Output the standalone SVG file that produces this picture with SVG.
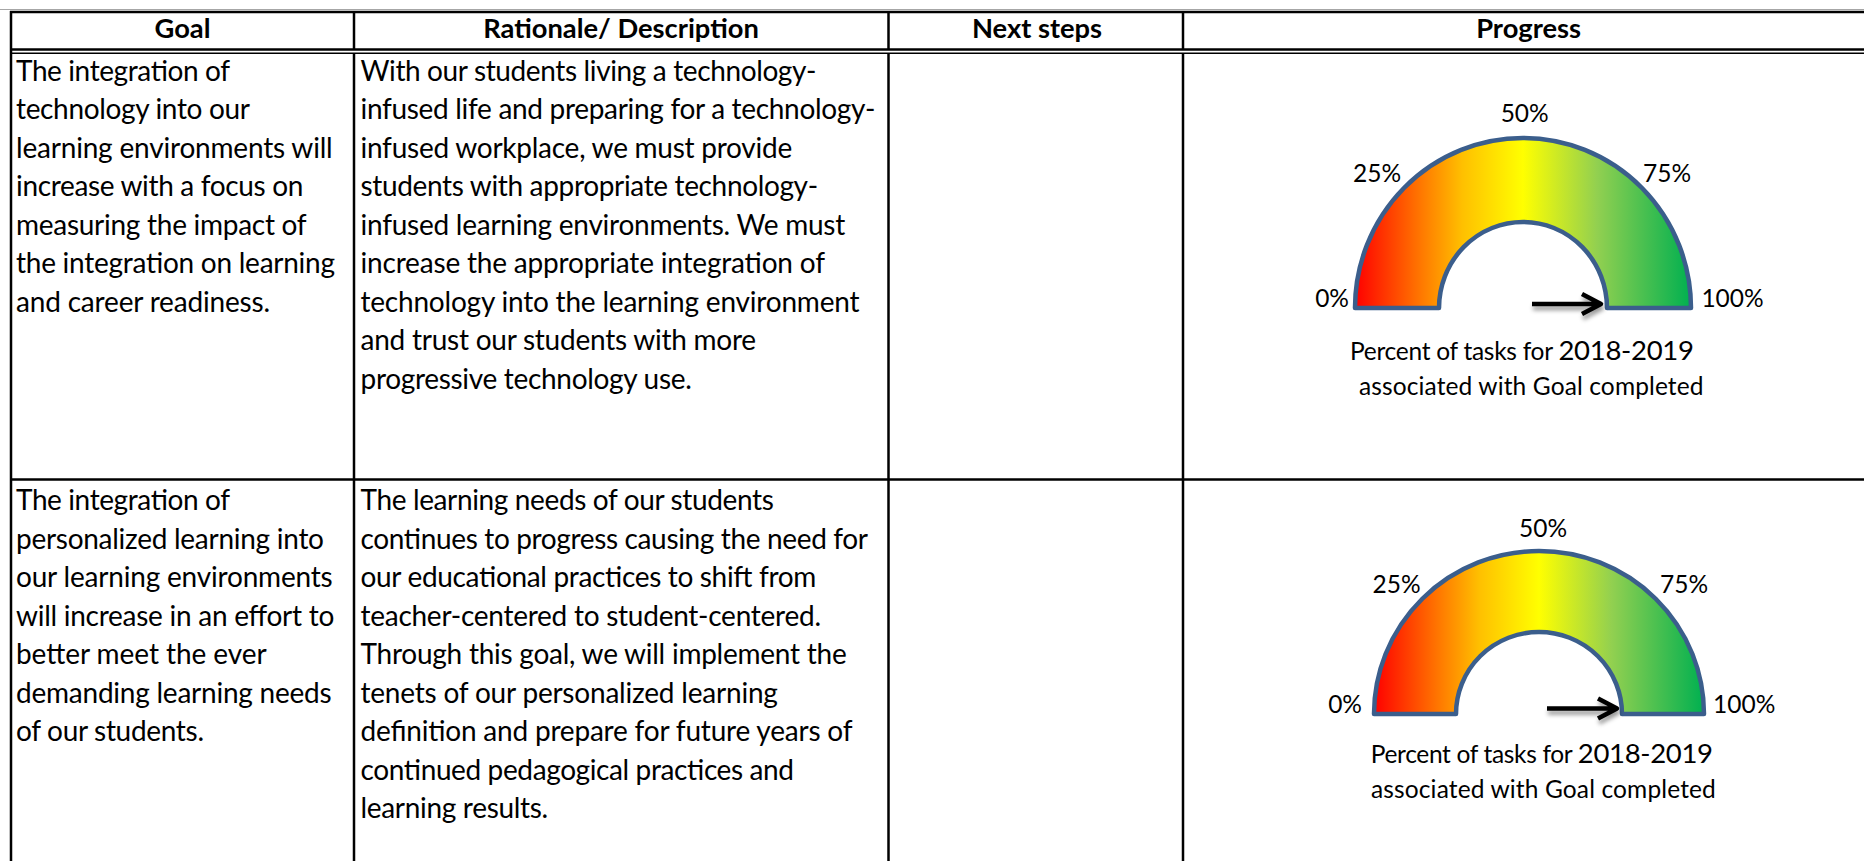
<svg xmlns="http://www.w3.org/2000/svg" width="1864" height="861" viewBox="0 0 1864 861">
<style>
.ln{stroke:#000;stroke-width:2.5;fill:none}
.thin{stroke:#000;stroke-width:1.5;fill:none}
.hd{font-family:Lato,"Liberation Sans",sans-serif;font-weight:bold;font-size:27.3px;fill:#000;text-anchor:middle}
.bd{font-family:Lato,"Liberation Sans",sans-serif;font-size:28px;fill:#000}
.lb{font-family:Lato,"Liberation Sans",sans-serif;font-size:24.5px;fill:#000}
.cp{font-family:Lato,"Liberation Sans",sans-serif;font-size:24.5px;fill:#000}
.yr{font-size:27.5px}
.gauge{fill:url(#grad);stroke:#3b5e8c;stroke-width:4.5;stroke-linejoin:round}
.arr{stroke:#000;stroke-width:4.5;fill:none;stroke-linejoin:round}
</style>
<defs>
<linearGradient id="grad" x1="0" y1="0" x2="1" y2="0">
<stop offset="0" stop-color="#FF0000"/>
<stop offset="0.2" stop-color="#FF7A00"/>
<stop offset="0.32" stop-color="#FFC000"/>
<stop offset="0.5" stop-color="#FFFF00"/>
<stop offset="0.72" stop-color="#92D050"/>
<stop offset="1" stop-color="#00B050"/>
</linearGradient>
<filter id="shadow" x="-20%" y="-50%" width="140%" height="220%">
<feDropShadow dx="1" dy="4" stdDeviation="2" flood-color="#000" flood-opacity="0.4"/>
</filter>
</defs>
<rect x="0" y="0" width="1864" height="861" fill="#fff"/>
<g id="grid">
<line x1="0" y1="9.5" x2="1864" y2="9.5" stroke="#a6a6a6" stroke-width="1"/>
<line class="ln" x1="10" y1="12" x2="1864" y2="12"/>
<line class="ln" x1="10" y1="49.5" x2="1864" y2="49.5"/>
<line class="thin" x1="10" y1="53.2" x2="1864" y2="53.2"/>
<line class="ln" x1="10" y1="479.5" x2="1864" y2="479.5"/>
<line class="ln" x1="11" y1="11" x2="11" y2="861"/>
<line class="ln" x1="354" y1="11" x2="354" y2="50"/>
<line class="ln" x1="354" y1="53" x2="354" y2="861"/>
<line class="ln" x1="888.5" y1="11" x2="888.5" y2="50"/>
<line class="ln" x1="888.5" y1="53" x2="888.5" y2="861"/>
<line class="ln" x1="1183" y1="11" x2="1183" y2="50"/>
<line class="ln" x1="1183" y1="53" x2="1183" y2="861"/>
</g>
<g id="header">
<text class="hd" x="182.5" y="38">Goal</text>
<text class="hd" x="621" y="38">Rationale/ Description</text>
<text class="hd" x="1037" y="38">Next steps</text>
<text class="hd" x="1528.6" y="38">Progress</text>
</g>
<g id="goal-1">
<text class="bd" x="16" y="80.7" textLength="214" lengthAdjust="spacing">The integration of</text>
<text class="bd" x="16" y="119.2" textLength="234" lengthAdjust="spacing">technology into our</text>
<text class="bd" x="16" y="157.7" textLength="316.7" lengthAdjust="spacing">learning environments will</text>
<text class="bd" x="16" y="196.2" textLength="287.3" lengthAdjust="spacing">increase with a focus on</text>
<text class="bd" x="16" y="234.7" textLength="290.7" lengthAdjust="spacing">measuring the impact of</text>
<text class="bd" x="16" y="273.2" textLength="319" lengthAdjust="spacing">the integration on learning</text>
<text class="bd" x="16" y="311.7" textLength="254" lengthAdjust="spacing">and career readiness.</text>
</g>
<g id="rationale-1">
<text class="bd" x="360.5" y="80.7" textLength="456" lengthAdjust="spacing">With our students living a technology-</text>
<text class="bd" x="360.5" y="119.2" textLength="515" lengthAdjust="spacing">infused life and preparing for a technology-</text>
<text class="bd" x="360.5" y="157.7" textLength="431.7" lengthAdjust="spacing">infused workplace, we must provide</text>
<text class="bd" x="360.5" y="196.2" textLength="457.6" lengthAdjust="spacing">students with appropriate technology-</text>
<text class="bd" x="360.5" y="234.7" textLength="484.7" lengthAdjust="spacing">infused learning environments. We must</text>
<text class="bd" x="360.5" y="273.2" textLength="464.5" lengthAdjust="spacing">increase the appropriate integration of</text>
<text class="bd" x="360.5" y="311.7" textLength="499" lengthAdjust="spacing">technology into the learning environment</text>
<text class="bd" x="360.5" y="350.2" textLength="395.6" lengthAdjust="spacing">and trust our students with more</text>
<text class="bd" x="360.5" y="388.7" textLength="331.3" lengthAdjust="spacing">progressive technology use.</text>
</g>
<g id="progress-1">
<path class="gauge" d="M 1355 308 A 168 170 0 0 1 1691 308 L 1607 308 A 84 86 0 0 0 1439 308 Z"/>
<g filter="url(#shadow)">
<path class="arr" d="M 1532 304 L 1599 304 M 1582 294 L 1601 304 L 1582 314"/>
</g>
<text class="lb" x="1524.7" y="121.7" text-anchor="middle">50%</text>
<text class="lb" x="1377" y="181.7" text-anchor="middle">25%</text>
<text class="lb" x="1667" y="181.7" text-anchor="middle">75%</text>
<text class="lb" x="1349" y="307" text-anchor="end">0%</text>
<text class="lb" x="1701.4" y="307">100%</text>
<text class="cp" x="1350" y="360" textLength="344" lengthAdjust="spacing">Percent of tasks for <tspan class="yr">2018-2019</tspan></text>
<text class="cp" x="1359" y="395" textLength="344.5" lengthAdjust="spacing">associated with Goal completed</text>
</g>
<g id="goal-2">
<text class="bd" x="16" y="510.2" textLength="214" lengthAdjust="spacing">The integration of</text>
<text class="bd" x="16" y="548.7" textLength="308" lengthAdjust="spacing">personalized learning into</text>
<text class="bd" x="16" y="587.2" textLength="316.7" lengthAdjust="spacing">our learning environments</text>
<text class="bd" x="16" y="625.7" textLength="318.3" lengthAdjust="spacing">will increase in an effort to</text>
<text class="bd" x="16" y="664.2" textLength="250.7" lengthAdjust="spacing">better meet the ever</text>
<text class="bd" x="16" y="702.7" textLength="315.7" lengthAdjust="spacing">demanding learning needs</text>
<text class="bd" x="16" y="741.2" textLength="188" lengthAdjust="spacing">of our students.</text>
</g>
<g id="rationale-2">
<text class="bd" x="360.5" y="510.2" textLength="413.3" lengthAdjust="spacing">The learning needs of our students</text>
<text class="bd" x="360.5" y="548.7" textLength="507.5" lengthAdjust="spacing">continues to progress causing the need for</text>
<text class="bd" x="360.5" y="587.2" textLength="455.8" lengthAdjust="spacing">our educational practices to shift from</text>
<text class="bd" x="360.5" y="625.7" textLength="460.5" lengthAdjust="spacing">teacher-centered to student-centered.</text>
<text class="bd" x="360.5" y="664.2" textLength="486.2" lengthAdjust="spacing">Through this goal, we will implement the</text>
<text class="bd" x="360.5" y="702.7" textLength="417.4" lengthAdjust="spacing">tenets of our personalized learning</text>
<text class="bd" x="360.5" y="741.2" textLength="492" lengthAdjust="spacing">definition and prepare for future years of</text>
<text class="bd" x="360.5" y="779.7" textLength="433.5" lengthAdjust="spacing">continued pedagogical practices and</text>
<text class="bd" x="360.5" y="818.2" textLength="187.7" lengthAdjust="spacing">learning results.</text>
</g>
<g id="progress-2">
<path class="gauge" d="M 1374 714 A 165 163 0 0 1 1704 714 L 1622 714 A 83 82 0 0 0 1456 714 Z"/>
<g filter="url(#shadow)">
<path class="arr" d="M 1547 708.5 L 1615 708.5 M 1598 698.5 L 1617 708.5 L 1598 718.5"/>
</g>
<text class="lb" x="1543" y="536.7" text-anchor="middle">50%</text>
<text class="lb" x="1396.5" y="592.7" text-anchor="middle">25%</text>
<text class="lb" x="1684" y="592.7" text-anchor="middle">75%</text>
<text class="lb" x="1362" y="713.3" text-anchor="end">0%</text>
<text class="lb" x="1713" y="713.3">100%</text>
<text class="cp" x="1370.7" y="763.3" textLength="342.3" lengthAdjust="spacing">Percent of tasks for <tspan class="yr">2018-2019</tspan></text>
<text class="cp" x="1371" y="798.3" textLength="344.8" lengthAdjust="spacing">associated with Goal completed</text>
</g>
</svg>
